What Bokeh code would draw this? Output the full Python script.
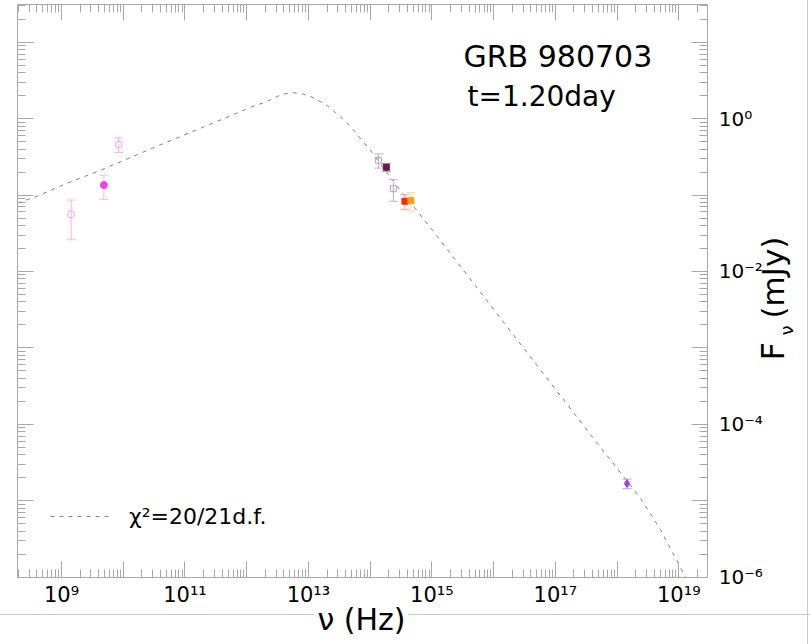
from bokeh.embed import file_html
from bokeh.models import (CustomJSTickFormatter, FixedTicker, InlineStyleSheet, Label,
                          Legend, LegendItem, LogAxis, Range1d)
from bokeh.plotting import figure
from bokeh.resources import INLINE

# ---- afterglow model (dashed curve), frequency in Hz, flux density in mJy ----
model_nu = [1.94e8, 4.04e8, 1.09e9, 4.29e9, 1.69e10, 3.34e10, 1.79e11, 9.59e11,
            1.39e12, 1.95e12, 2.76e12, 3.78e12, 5.48e12, 7.96e12, 1.09e13, 1.52e13,
            2.07e13, 2.76e13, 3.63e13, 4.71e13, 6.05e13, 7.48e13, 9.57e13, 2.93e14,
            5.82e14, 9.31e14, 4.81e17, 7.91e17, 1.22e18, 2.42e18, 5.11e18, 8.93e18,
            1.29e19]
model_flux = [0.0787, 0.0966, 0.137, 0.211, 0.338, 0.427, 0.750, 1.312,
              1.496, 1.618, 1.866, 2.084, 2.188, 2.104, 1.941, 1.690,
              1.452, 1.189, 0.982, 0.796, 0.637, 0.506, 0.405, 0.1213,
              0.0614, 0.0383, 5.60e-5, 3.40e-5, 2.16e-5, 1.07e-5, 4.12e-6, 1.75e-6,
              1.0e-6]

# ---- radio ----
radio_open_nu = [1.43e9, 8.46e9]
radio_open_flux = [0.056, 0.46]
radio_open_err = [0.030, 0.10]
radio_fill_nu = [4.86e9]
radio_fill_flux = [0.135]
radio_fill_err = [0.047]

# ---- near-infrared / optical ----
nir_open_nu = [1.36e14, 2.38e14]
nir_open_flux = [0.285, 0.121]
nir_open_err = [0.060, 0.038]
opt_nu = [1.83e14, 3.66e14, 4.58e14]
opt_flux = [0.231, 0.083, 0.0846]
opt_err = [0.027, 0.018, 0.023]
opt_colors = ["#6a1850", "#ff2a00", "#ffa010"]

# ---- X-ray ----
xray_nu = [1.45e18]
xray_flux = [1.68e-5]
xray_err = [0.24e-5]

# ---- axes ----
x_decades = list(range(8, 20))
y_decades = list(range(-6, 2))
x_lim = (10 ** 8.287, 10 ** 19.47)
y_lim = (1e-6, 10 ** 1.489)

title_lines = ["GRB 980703", "t=1.20day"]
fit_label = "\u03c7\u00b2=20/21d.f."
x_title = "\u03bd (Hz)"
y_title_parts = ["F", "\u03bd", "(mJy)"]

FONT = "DejaVu Sans"
GREY = "#a8a8a8"

# page geometry: the axes box sits inside an 810 x 644 canvas
W, H = 810, 644
BOX_L, BOX_R, BOX_T, BOX_B = 17.0, 707.3, 4.3, 576.7
x_pd = (BOX_R - BOX_L) / (19.47 - 8.287)      # pixels per decade along x
y_pd = (BOX_B - BOX_T) / (1.489 + 6.0)        # pixels per decade along y
x_full = (10 ** (8.287 - BOX_L / x_pd), 10 ** (19.47 + (W - BOX_R) / x_pd))
y_full = (10 ** (-6.0 - (H - BOX_B) / y_pd), 10 ** (1.489 + BOX_T / y_pd))

# thin grey panel rules along the bottom and right edge of the page
page_css = InlineStyleSheet(css="""
:host { position: relative; }
:host::before {
  content: ""; position: absolute; left: 0; top: 614px; width: 810px; height: 1px;
  background: linear-gradient(to right, #c8c8c8 0px, #c8c8c8 314px, transparent 314px,
                              transparent 408px, #c8c8c8 408px);
  pointer-events: none; z-index: 5;
}
:host::after {
  content: ""; position: absolute; left: 807px; top: 0; width: 1px; height: 644px;
  background: #c8c8c8; pointer-events: none; z-index: 5;
}
""")

p = figure(width=W, height=H, frame_width=W, frame_height=H,
           x_axis_type="log", y_axis_type="log", y_axis_location="right",
           x_range=Range1d(*x_full), y_range=Range1d(*y_full),
           output_backend="svg", toolbar_location=None,
           min_border_left=0, min_border_top=0, min_border_right=0, min_border_bottom=0,
           stylesheets=[page_css])
p.xgrid.visible = False
p.ygrid.visible = False
p.outline_line_color = None
p.background_fill_color = "white"
p.border_fill_color = "white"


def decade_ticks(decades, lim):
    lo, hi = lim
    major = [10.0 ** d for d in decades if lo <= 10.0 ** d <= hi]
    minor = [k * 10.0 ** d for d in decades for k in range(2, 10) if lo <= k * 10.0 ** d <= hi]
    return FixedTicker(ticks=major, minor_ticks=minor)


def power_formatter(parity):
    code = """
    const e = Math.round(Math.log10(tick));
    if ((((e % 2) + 2) % 2) !== PARITY) { return ""; }
    const sup = {"-": "\\u207b", "0": "\\u2070", "1": "\\u00b9", "2": "\\u00b2",
                 "3": "\\u00b3", "4": "\\u2074", "5": "\\u2075", "6": "\\u2076",
                 "7": "\\u2077", "8": "\\u2078", "9": "\\u2079"};
    return "10" + String(e).split("").map((c) => sup[c]).join("");
    """.replace("PARITY", str(parity))
    return CustomJSTickFormatter(code=code)


def style_axis(ax, decades, lim, location, labelled, parity=0, size="21px"):
    ax.ticker = decade_ticks(decades, lim)
    ax.bounds = lim
    ax.fixed_location = location
    ax.axis_line_color = GREY
    ax.major_tick_line_color = GREY
    ax.minor_tick_line_color = GREY
    ax.major_tick_in = 16
    ax.major_tick_out = 0
    ax.minor_tick_in = 8
    ax.minor_tick_out = 0
    if labelled:
        ax.formatter = power_formatter(parity)
        ax.major_label_text_font = FONT
        ax.major_label_text_font_size = size
        ax.major_label_text_color = "black"
    else:
        ax.major_label_text_font_size = "0px"
        ax.major_label_standoff = 0
        ax.formatter = CustomJSTickFormatter(code='return "";')


# bottom axis (labelled) and mirrored top axis
xax = p.xaxis[0]
style_axis(xax, x_decades, x_lim, y_lim[0], True, parity=1)
xax.major_label_standoff = 6

top_axis = LogAxis()
style_axis(top_axis, x_decades, x_lim, y_lim[1], False)
p.add_layout(top_axis, "above")

# right axis (labelled) and mirrored left axis
yax = p.yaxis[0]
style_axis(yax, y_decades, y_lim, x_lim[1], True, parity=0, size="20px")
yax.major_label_standoff = 11

left_axis = LogAxis()
style_axis(left_axis, y_decades, y_lim, x_lim[0], False)
p.add_layout(left_axis, "left")

# ---- model curve ----
model = p.line(model_nu, model_flux, line_color="#808080", line_width=1, line_dash="4 5")


def error_bars(nu, flux, err, color):
    lo = [f - e for f, e in zip(flux, err)]
    hi = [f + e for f, e in zip(flux, err)]
    p.segment(x0=nu, y0=lo, x1=nu, y1=hi, line_color=color, line_width=1)
    p.scatter(x=nu + nu, y=lo + hi, marker="dash", size=9, line_color=color, line_width=1)


error_bars(radio_open_nu, radio_open_flux, radio_open_err, "#f2b4ea")
error_bars(radio_fill_nu, radio_fill_flux, radio_fill_err, "#f2b4ea")
error_bars(nir_open_nu, nir_open_flux, nir_open_err, "#c8acc8")
for nu, fl, er, col in zip(opt_nu, opt_flux, opt_err, ["#b890b0", "#ffa898", "#ffd8a0"]):
    error_bars([nu], [fl], [er], col)
error_bars(xray_nu, xray_flux, xray_err, "#c898f0")

p.scatter(radio_open_nu, radio_open_flux, marker="circle", size=7,
          fill_color=None, line_color="#f0a0e6", line_width=1)
p.scatter(radio_fill_nu, radio_fill_flux, marker="circle", size=7,
          fill_color="#ff3ce0", line_color="#ff3ce0")
p.scatter(nir_open_nu, nir_open_flux, marker="square", size=6,
          fill_color=None, line_color="#bca0bc", line_width=1)
p.scatter(opt_nu, opt_flux, marker="square", size=6,
          fill_color=opt_colors, line_color=opt_colors)
p.scatter(xray_nu, xray_flux, marker="diamond", size=8,
          fill_color="#a040e0", line_color="#a040e0")

# ---- legend for the fit ----
legend = Legend(items=[LegendItem(label=fit_label, renderers=[model])],
                location=(50, 115), padding=0, margin=0, spacing=0,
                glyph_width=63, glyph_height=26, label_height=26, label_standoff=16,
                label_text_font=FONT, label_text_font_size="22px",
                label_text_color="black",
                border_line_color=None, background_fill_alpha=0)
p.add_layout(legend, "center")


def page_text(txt, x, y, size, angle=0, align="left"):
    p.add_layout(Label(x=x, y=y, x_units="screen", y_units="screen", text=txt,
                       angle=angle, angle_units="deg", text_align=align,
                       text_font=FONT, text_font_size=size, text_color="black",
                       text_baseline="alphabetic"))


# ---- burst and epoch ----
page_text(title_lines[0], 463, 588, "30px")
page_text(title_lines[1], 467, 548, "28px")

# ---- axis titles ----
page_text(x_title, 361, 25, "30px", align="center")
for txt, x, y, size in zip(y_title_parts, [772, 786, 772], [284, 309, 326],
                           ["32px", "18px", "31px"]):
    page_text(txt, x, y, size, angle=90)

open("out.html", "w").write(file_html(p, INLINE))
